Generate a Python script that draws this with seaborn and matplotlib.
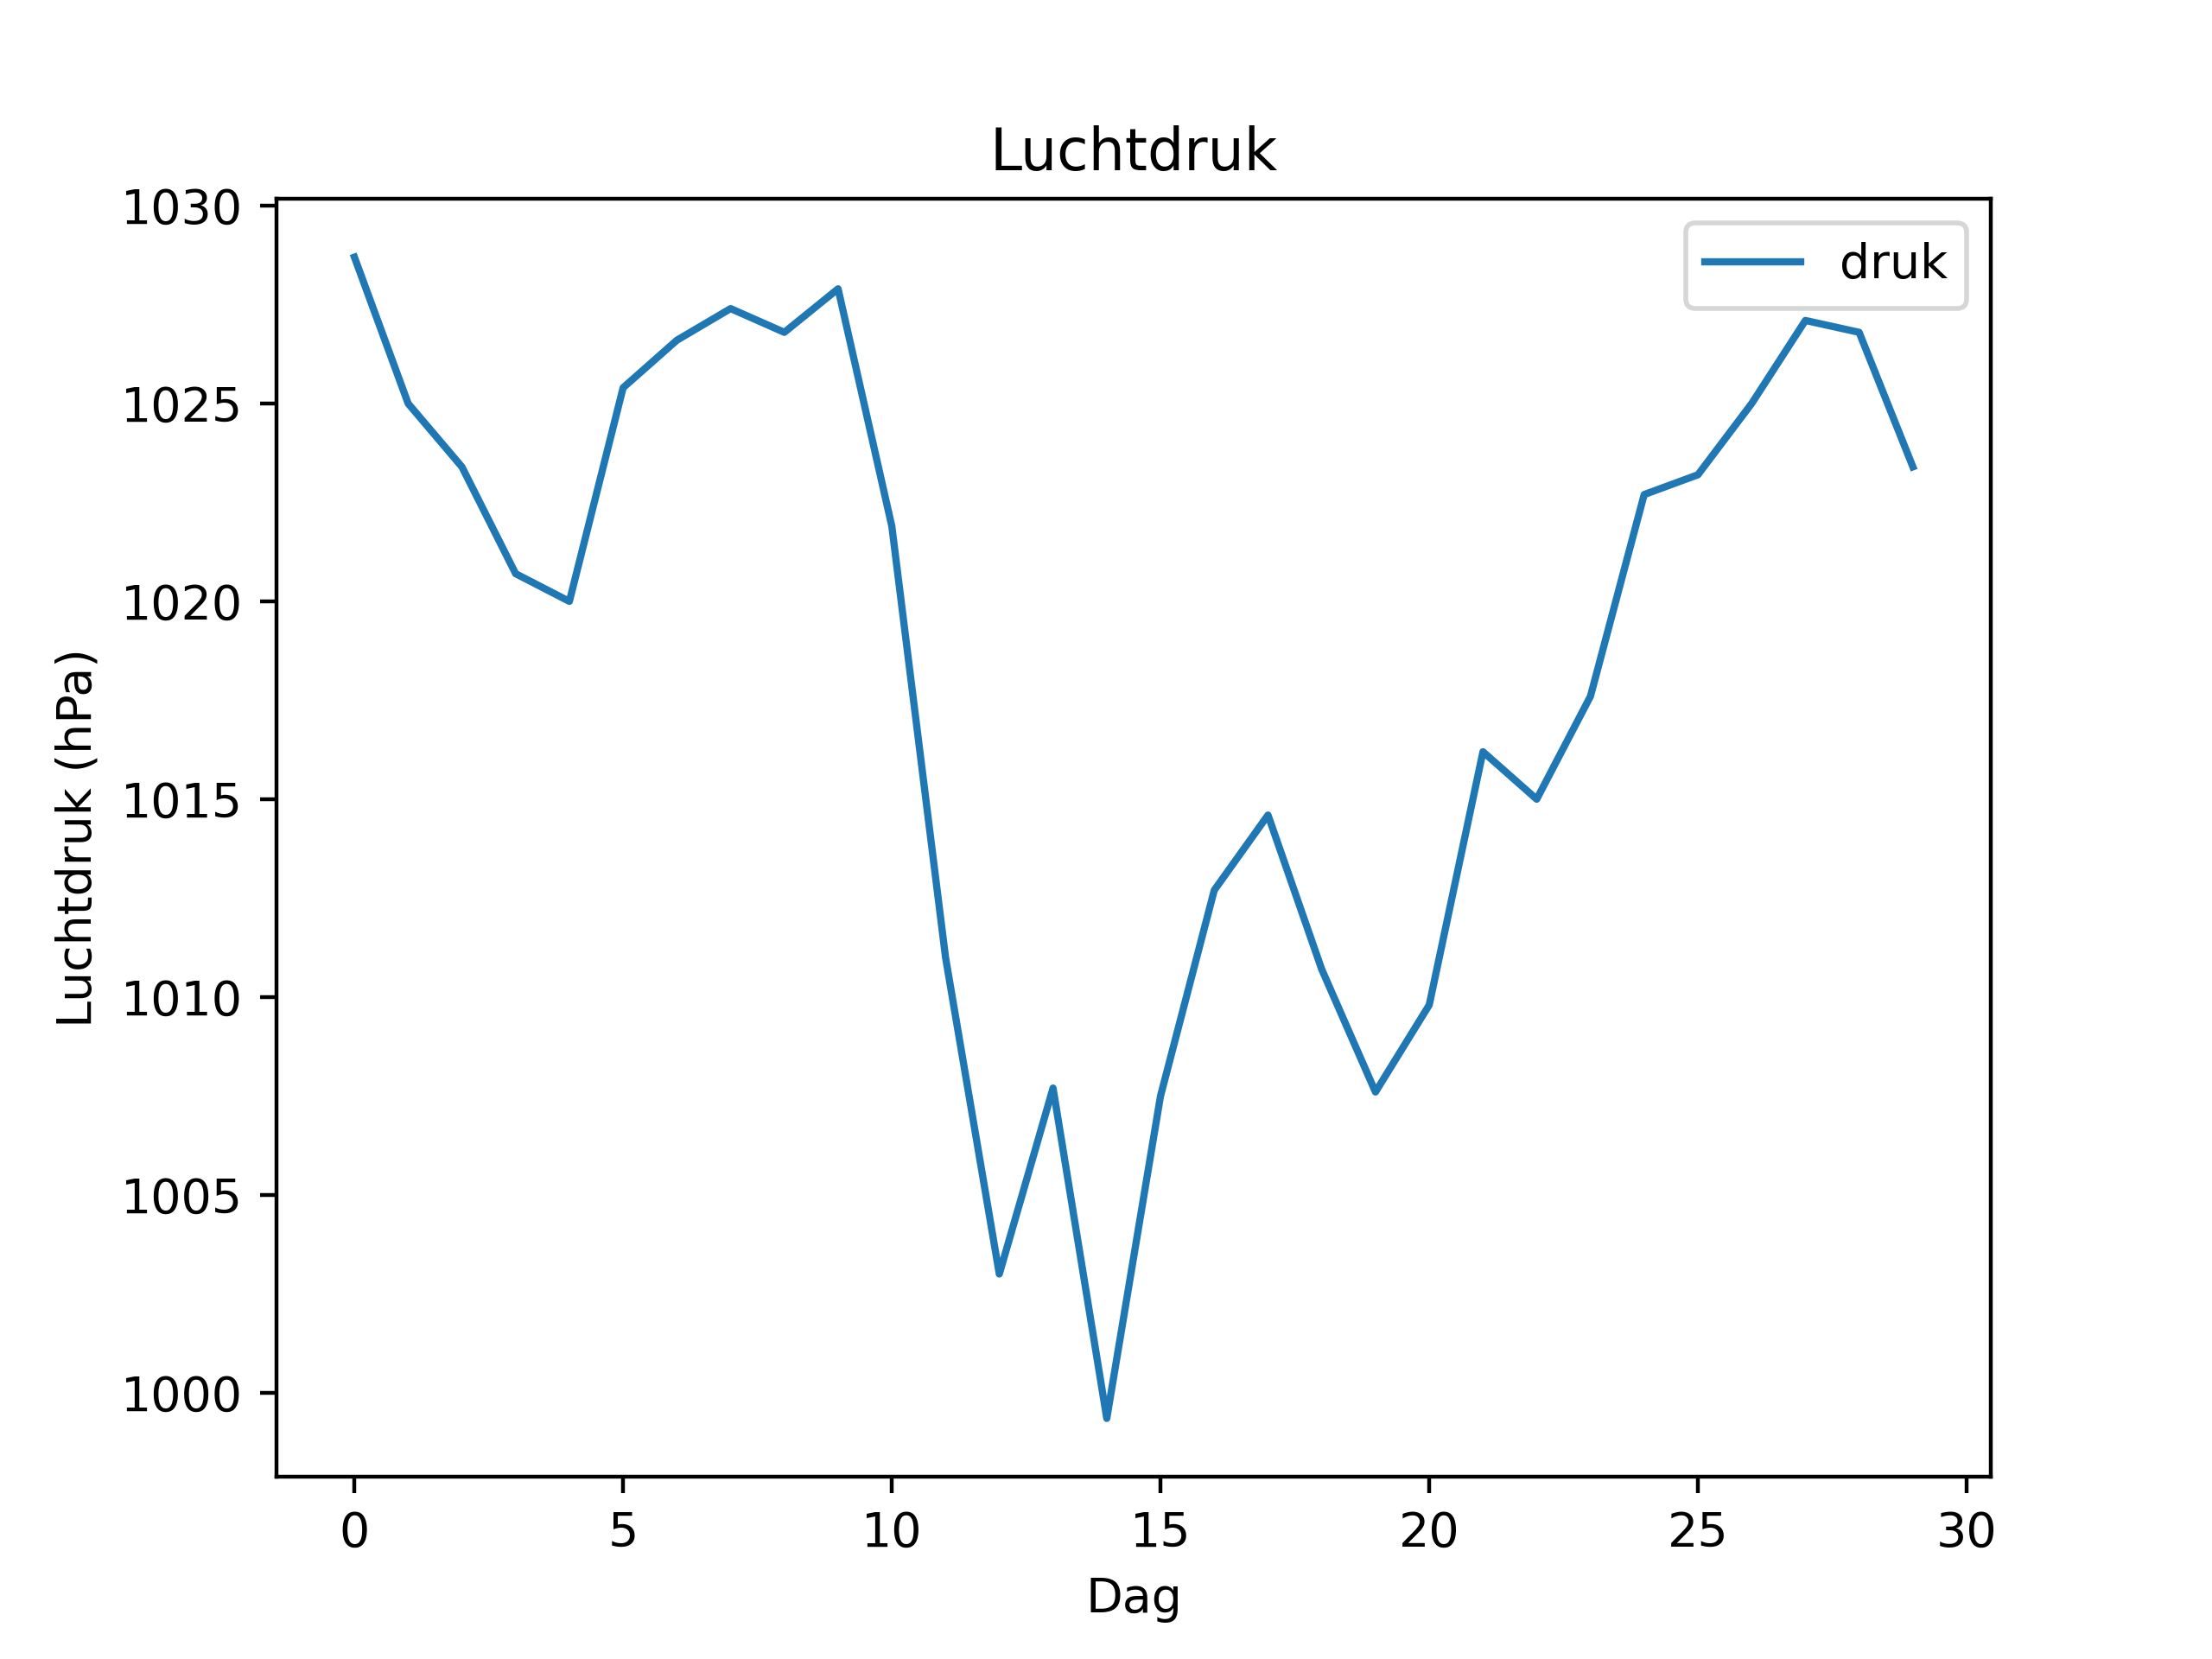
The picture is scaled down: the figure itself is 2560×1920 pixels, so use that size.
import matplotlib
matplotlib.use("Agg")
import matplotlib.pyplot as plt
import seaborn as sns
import pandas as pd

dag = list(range(30))
druk = [1028.7, 1025.0, 1023.4, 1020.7, 1020.0, 1025.4, 1026.6, 1027.4, 1026.8, 1027.9,
        1021.9, 1011.0, 1003.0, 1007.7, 999.35, 1007.5, 1012.7, 1014.6, 1010.7, 1007.6,
        1009.8, 1016.2, 1015.0, 1017.6, 1022.7, 1023.2, 1025.0, 1027.1, 1026.8, 1023.4]

df = pd.DataFrame({"Dag": dag, "druk": druk})

fig, ax = plt.subplots(figsize=(6.4, 4.8), dpi=400)
sns.lineplot(data=df, x="Dag", y="druk", ax=ax, label="druk", color="#1f77b4")
ax.set_title("Luchtdruk")
ax.set_xlabel("Dag")
ax.set_ylabel("Luchtdruk (hPa)")
ax.legend(loc="upper right")
fig.savefig("out.png", dpi=400)
